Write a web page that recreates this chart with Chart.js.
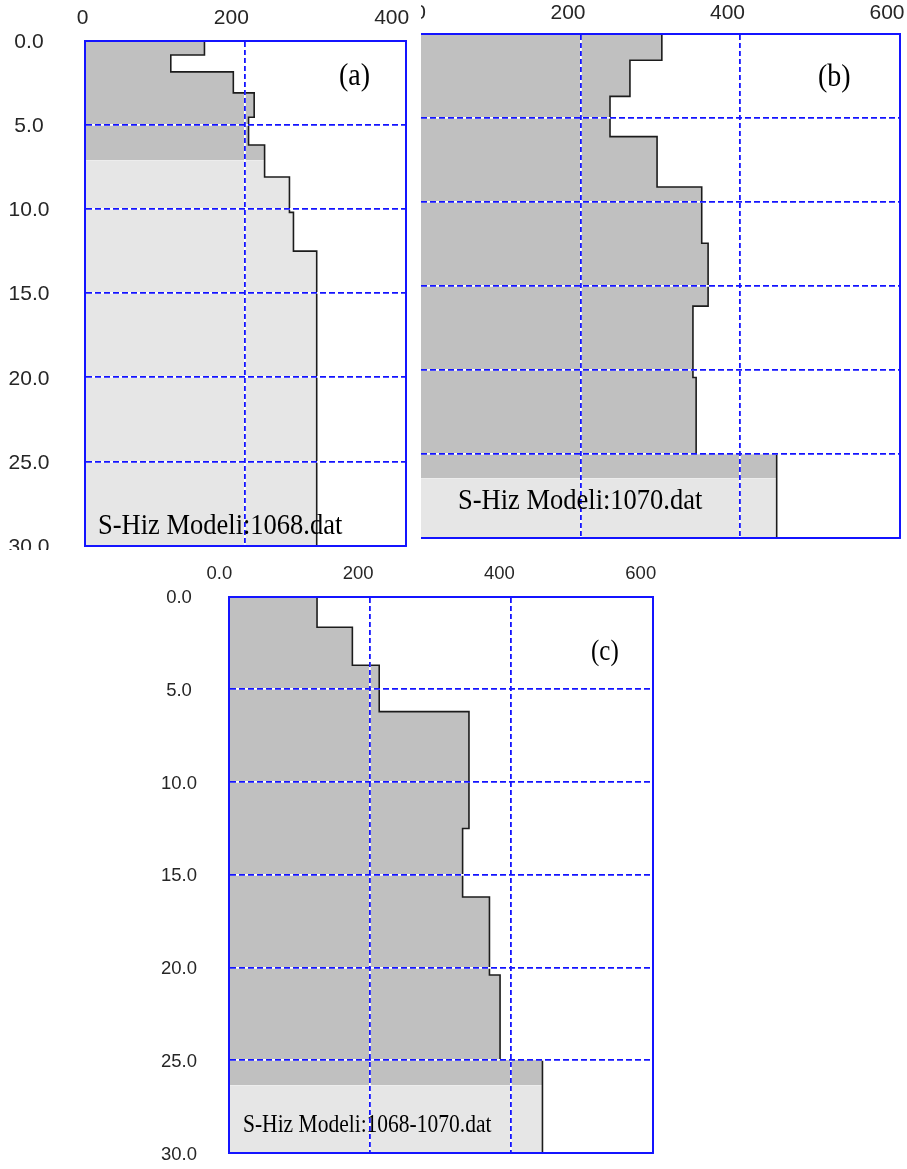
<!DOCTYPE html>
<html>
<head>
<meta charset="utf-8">
<title>S-Hiz Modelleri</title>
<script src="https://cdn.jsdelivr.net/npm/chart.js@4.4.1/dist/chart.umd.min.js"></script>
<style>
  html, body { margin: 0; padding: 0; background: #fff; }
  body { width: 907px; height: 1169px; position: relative; overflow: hidden; }
  canvas { position: absolute; display: block; }
  .note {
    position: absolute;
    font-family: "Liberation Serif", "Times New Roman", serif;
    color: #000;
    line-height: 1;
    white-space: nowrap;
    transform-origin: 0 0.84em;
  }
</style>
</head>
<body>
<canvas id="chartA" width="414" height="550" style="left:0;top:0"></canvas>
<canvas id="chartB" width="486" height="545" style="left:421px;top:0"></canvas>
<canvas id="chartC" width="520" height="613" style="left:150px;top:556px"></canvas>

<div class="note" style="left:339px;top:61.5px;font-size:28px;transform:scaleY(1.1)">(a)</div>
<div class="note" style="left:98px;top:511.8px;font-size:26.5px;transform:scaleY(1.13)">S-Hiz Modeli:1068.dat</div>
<div class="note" style="left:818px;top:62.5px;font-size:28px;transform:scaleY(1.1)">(b)</div>
<div class="note" style="left:458px;top:486.8px;font-size:26.5px;transform:scaleY(1.13)">S-Hiz Modeli:1070.dat</div>
<div class="note" style="left:591px;top:639px;font-size:25px;transform:scaleY(1.15)">(c)</div>
<div class="note" style="left:243px;top:1115px;font-size:21.5px;transform:scaleY(1.2)">S-Hiz Modeli:1068-1070.dat</div>

<script>
// Depth axis (m), shared by all three profiles
const MAX_DEPTH = 30;
const DEPTH_STEP = 5;
const depthTickLabels = ['0.0', '5.0', '10.0', '15.0', '20.0', '25.0', '30.0'];

// Velocity axis step (m/s)
const VS_STEP = 200;

// (a) 1068.dat : layer top depths (m) and shear-wave velocities (m/s)
const layerTopA = [0, 0.85, 1.85, 3.1, 4.55, 6.2, 8.1, 10.2, 12.5];
const vsA = [149, 107, 185, 211, 204, 224, 255, 260, 289];
const shadeDepthA = 7.1;
const vsTickLabelsA = ['0', '200', '400'];

// (b) 1070.dat
const layerTopB = [0, 1.55, 3.7, 6.1, 9.1, 12.45, 16.2, 20.45, 25.0];
const vsB = [302, 262, 237, 296, 352, 360, 341, 345, 446];
const shadeDepthB = 26.45;
const vsTickLabelsB = ['0', '200', '400', '600'];

// (c) 1068-1070.dat
const layerTopC = [0, 1.65, 3.7, 6.2, 12.5, 16.2, 20.4, 25.0];
const vsC = [125, 175, 213, 340, 331, 369, 384, 444];
const shadeDepthC = 26.35;
const vsTickLabelsC = ['0.0', '200', '400', '600'];

const BLUE = '#1414ff';
const DARK_FILL = '#c0c0c0';
const LIGHT_FILL = '#e6e6e6';
const LINE = '#1c1c1c';
const TICK_COLOR = '#262626';
const TICK_FAMILY = '"Liberation Sans", Arial, sans-serif';
const NONE = 'rgba(0,0,0,0)';
const GRID_WIDTH = 1.8;

// Corner points of the layered profile between two depths
function profilePoints(tops, vels, from, to) {
  const pts = [];
  for (let i = 0; i < tops.length; i++) {
    const bottom = i + 1 < tops.length ? tops[i + 1] : MAX_DEPTH;
    const a = Math.max(tops[i], from);
    const b = Math.min(bottom, to);
    if (b <= a) continue;
    pts.push({ x: vels[i], y: a }, { x: vels[i], y: b });
  }
  return pts;
}

// Grid colour that skips the lines lying on the frame
function innerGrid(color, max) {
  return (ctx) => {
    const v = ctx.tick ? ctx.tick.value : null;
    return (v === 0 || v === max) ? NONE : color;
  };
}

function makeProfile(canvasId, p) {
  const ctx = document.getElementById(canvasId);
  return new Chart(ctx, {
    type: 'line',
    data: {
      datasets: [
        {
          data: profilePoints(p.tops, p.vels, 0, MAX_DEPTH),
          borderColor: LINE, borderWidth: 1.6, fill: false,
          pointRadius: 0, tension: 0, xAxisID: 'x', yAxisID: 'y'
        },
        {
          data: profilePoints(p.tops, p.vels, 0, p.shade),
          borderColor: NONE, borderWidth: 0, backgroundColor: DARK_FILL,
          fill: 'origin', pointRadius: 0, tension: 0, xAxisID: 'x', yAxisID: 'y'
        },
        {
          data: profilePoints(p.tops, p.vels, p.shade, MAX_DEPTH),
          borderColor: NONE, borderWidth: 0, backgroundColor: LIGHT_FILL,
          fill: 'origin', pointRadius: 0, tension: 0, xAxisID: 'x', yAxisID: 'y'
        }
      ]
    },
    options: {
      responsive: false,
      animation: false,
      events: [],
      indexAxis: 'y',
      layout: { padding: p.padding },
      plugins: { legend: { display: false }, tooltip: { enabled: false } },
      scales: {
        x: {
          type: 'linear', axis: 'x', position: 'top',
          min: 0, max: p.xMax,
          ticks: {
            stepSize: VS_STEP, autoSkip: false, maxRotation: 0,
            callback: (v) => p.xLabels[Math.round(v / VS_STEP)],
            align: 'end', labelOffset: p.xLabelShift, padding: p.xLabelPad,
            color: TICK_COLOR,
            font: { family: TICK_FAMILY, size: p.tickSize, lineHeight: 1.2 }
          },
          grid: { color: innerGrid(BLUE, p.xMax), lineWidth: GRID_WIDTH, drawTicks: false, z: 2 },
          border: { display: true, color: BLUE, width: 2, dash: [5, 3], z: 3 },
          afterFit: (s) => { s.height = p.topAxis; s.paddingLeft = 0; s.paddingRight = 0; }
        },
        x2: {
          type: 'linear', axis: 'x', position: 'bottom',
          min: 0, max: p.xMax,
          ticks: { display: false, stepSize: VS_STEP },
          grid: { color: innerGrid('#ffffff', p.xMax), lineWidth: GRID_WIDTH, drawTicks: false, z: 1 },
          border: { display: true, color: BLUE, width: 2, z: 3 }
        },
        y: {
          type: 'linear', axis: 'y', position: 'left', reverse: true,
          min: 0, max: MAX_DEPTH,
          ticks: {
            display: p.showDepth, stepSize: DEPTH_STEP, autoSkip: false,
            callback: (v) => depthTickLabels[Math.round(v / DEPTH_STEP)],
            crossAlign: 'center', padding: p.yLabelPad, labelOffset: 1.5,
            color: TICK_COLOR,
            font: { family: TICK_FAMILY, size: p.tickSize, lineHeight: 1.2 }
          },
          grid: { color: innerGrid(BLUE, MAX_DEPTH), lineWidth: GRID_WIDTH, drawTicks: false, z: 2 },
          border: { display: p.leftFrame, color: BLUE, width: 2, dash: [6, 3], z: 3 },
          afterFit: (s) => { s.width = p.leftAxis; s.paddingTop = 0; s.paddingBottom = 0; }
        },
        y2: {
          type: 'linear', axis: 'y', position: 'right', reverse: true,
          min: 0, max: MAX_DEPTH,
          ticks: { display: false, stepSize: DEPTH_STEP },
          grid: { color: innerGrid('#ffffff', MAX_DEPTH), lineWidth: GRID_WIDTH, drawTicks: false, z: 1 },
          border: { display: true, color: BLUE, width: 2, z: 3 }
        }
      }
    }
  });
}

makeProfile('chartA', {
  tops: layerTopA, vels: vsA, shade: shadeDepthA,
  xMax: 400, xLabels: vsTickLabelsA,
  showDepth: true, leftFrame: true,
  tickSize: 21, xLabelShift: 3.5, xLabelPad: 9.4, yLabelPad: 35.6,
  leftAxis: 85, topAxis: 40.7,
  padding: { left: 0, top: 0, right: 8.3, bottom: 4.3 }
});

makeProfile('chartB', {
  tops: layerTopB, vels: vsB, shade: shadeDepthB,
  xMax: 600, xLabels: vsTickLabelsB,
  showDepth: false, leftFrame: false,
  tickSize: 21, xLabelShift: 5, xLabelPad: 8, yLabelPad: 0,
  leftAxis: 0, topAxis: 34.3,
  padding: { left: 0, top: 0, right: 7.5, bottom: 7.3 }
});

makeProfile('chartC', {
  tops: layerTopC, vels: vsC, shade: shadeDepthC,
  xMax: 600, xLabels: vsTickLabelsC,
  showDepth: true, leftFrame: true,
  tickSize: 18.5, xLabelShift: 3.5, xLabelPad: 11.7, yLabelPad: 31.7,
  leftAxis: 78.7, topAxis: 40.6,
  padding: { left: 0, top: 0, right: 17.3, bottom: 16 }
});
</script>
</body>
</html>
